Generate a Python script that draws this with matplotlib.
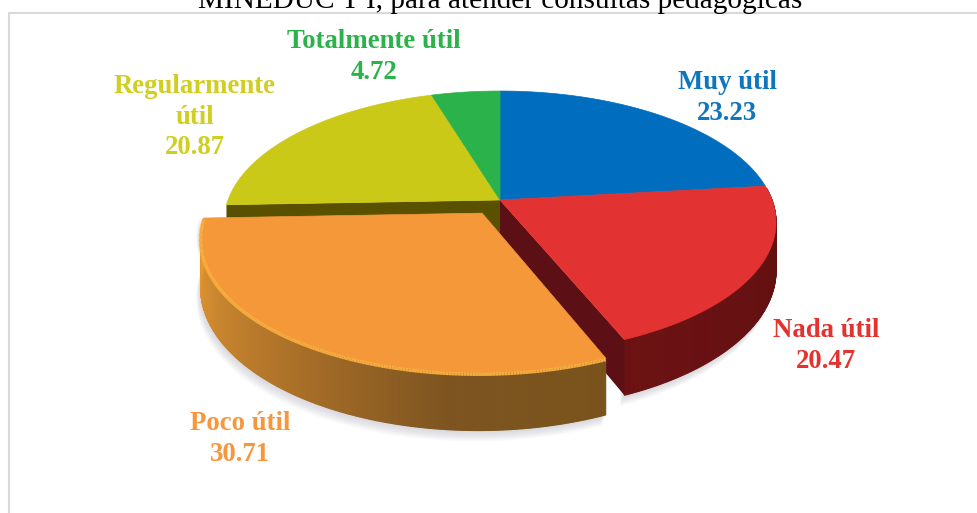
import numpy as np
import matplotlib
matplotlib.use("Agg")
import matplotlib.pyplot as plt
from matplotlib.patches import Polygon, Rectangle

categories = ["Muy útil", "Nada útil", "Poco útil", "Regularmente útil", "Totalmente útil"]
values = [23.23, 20.47, 30.71, 20.87, 4.72]
value_labels = ["23.23", "20.47", "30.71", "20.87", "4.72"]
title = "MINEDUC T I, para atender consultas pedagógicas"

top_colors = ["#016dbf", "#e23232", "#f49839", "#cbc917", "#2bb24a"]
text_colors = ["#0f75bd", "#e4322f", "#f7963a", "#d0ce1e", "#2bb24a"]

# label lines and baselines, pixels
label_lines = [["Muy útil", "23.23"], ["Nada útil", "20.47"], ["Poco útil", "30.71"],
               ["Regularmente", "útil", "20.87"], ["Totalmente útil", "4.72"]]
label_x = [727, 826, 240, 195, 374]
label_y = [89, 337, 430, 93, 48]

# projection of the pie plane to the picture
cx, cy = 500, 200
rx, ry = 272, 127.5
persp = 0.17
depth = 47
explode_idx = 2
explode = 0.12


def project(u, v):
    w = 1 + persp * v
    return cx + rx * u / w, cy - ry * v / w


def down(u, v):
    return depth / (1 + persp * v)


def rim(t0, t1, off=(0, 0)):
    t = np.radians(np.linspace(t0, t1, max(int(abs(t1 - t0)) * 2, 2)))
    return np.sin(t) + off[0], np.cos(t) + off[1]


def wall(ax, t0, t1, stops, off=(0, 0), z=2):
    # outer wall of one slice, small pieces so the shade can change
    ang = np.linspace(t0, t1, int(t1 - t0) * 2 + 2)
    for a, b in zip(ang[:-1], ang[1:]):
        if b < 85 or a > 275:
            continue
        us, vs = rim(a, b, off)
        x, y = project(us, vs)
        yb = y + down(us, vs)
        col = [np.interp((a + b) / 2, stops[0], [c[i] for c in stops[1]]) for i in range(3)]
        ax.add_patch(Polygon(np.r_[np.c_[x, y], np.c_[x, yb][::-1]], fc=col, ec=col, lw=0.8, zorder=z))


def rgb(h):
    return matplotlib.colors.to_rgb(h)


fig = plt.figure(figsize=(9.77, 5.13), dpi=100)
ax = fig.add_axes([0, 0, 1, 1])
ax.set_xlim(0, 977)
ax.set_ylim(513, 0)
ax.axis("off")

ax.add_patch(Rectangle((8.5, 13), 990, 520, fc="white", ec="#d9d9d9", lw=1.5, zorder=0))
ax.text(500, 8, title, family="Liberation Serif", fontsize=21.1, ha="center", va="baseline", color="black", zorder=5)

edges = np.r_[0, np.cumsum(values)] / np.sum(values) * 360
mid = (edges[explode_idx] + edges[explode_idx + 1]) / 2
off = (explode * np.sin(np.radians(mid)), explode * np.cos(np.radians(mid)))

# soft shadow under the pie
for i in range(1, 12):
    for j in [0, explode_idx]:
        o = off if j == explode_idx else (0, 0)
        t0, t1 = (edges[2], edges[3]) if j == explode_idx else (85, edges[2])
        us, vs = rim(t0, t1, o)
        x, y = project(us, vs)
        yb = y + down(us, vs)
        ax.add_patch(Polygon(np.r_[np.c_[x - i * 0.4, y], np.c_[x - i * 0.4, yb + i][::-1]],
                             fc="#6a6a7a", ec="none", alpha=0.025, zorder=1))

# walls of the slices that stay in place
red_stops = ([edges[1], 100, edges[2]], [rgb("#8a1c1c"), rgb("#621011"), rgb("#6c1213")])
wall(ax, edges[1], edges[2], red_stops)
wall(ax, edges[0], edges[1], ([0, 360], [rgb("#00457a"), rgb("#00457a")]))

# inner faces opened by the moved slice
for t, col in [(edges[2], "#5c0f14"), (edges[3], "#595000")]:
    u, v = np.sin(np.radians(t)), np.cos(np.radians(t))
    x0, y0 = project(0, 0)
    x1, y1 = project(u, v)
    ax.add_patch(Polygon([(x0, y0), (x1, y1), (x1, y1 + down(u, v)), (x0, y0 + down(0, 0))],
                         fc=col, ec="none", zorder=3))

# top faces
for i in range(len(values)):
    if i == explode_idx:
        continue
    us, vs = rim(edges[i], edges[i + 1])
    x, y = project(us, vs)
    x0, y0 = project(0, 0)
    ax.add_patch(Polygon(np.r_[[(x0, y0)], np.c_[x, y]], fc=top_colors[i], ec=top_colors[i], lw=0.5, zorder=4))

# moved slice
orange_stops = ([edges[2], 185, 215, 245, edges[3]],
                [rgb("#7a531c"), rgb("#7d5420"), rgb("#ab7028"), rgb("#cf8a30"), rgb("#ea982f")])
wall(ax, edges[2], edges[3], orange_stops, off, z=5)
us, vs = rim(edges[2], edges[3], off)
x, y = project(us, vs)
x0, y0 = project(*off)
ax.add_patch(Polygon(np.r_[[(x0, y0)], np.c_[x, y]], fc=top_colors[2], ec=top_colors[2], lw=0.5, zorder=6))
# rounded edge of the wall, fades toward the front corner
shown = np.degrees(np.arctan2(us - off[0], vs - off[1])) % 360
for a, b, s, e in zip(x[:-1], y[:-1], x[1:], y[1:]):
    ax.plot([a, s], [b + 1.5, e + 1.5], color="#fbb040", lw=2.5, zorder=7, solid_capstyle="butt",
            alpha=float(np.clip((np.interp(a, [600, 420, 200], [0.15, 0.6, 0.95])), 0, 1)))

for lines, lx, ly, col in zip(label_lines, label_x, label_y, text_colors):
    for k, line in enumerate(lines):
        ax.text(lx, ly + k * 30.7, line, family="Liberation Serif", fontweight="bold", fontsize=19.3,
                color=col, ha="center", va="baseline", zorder=8)

fig.savefig("out.png", dpi=100)
